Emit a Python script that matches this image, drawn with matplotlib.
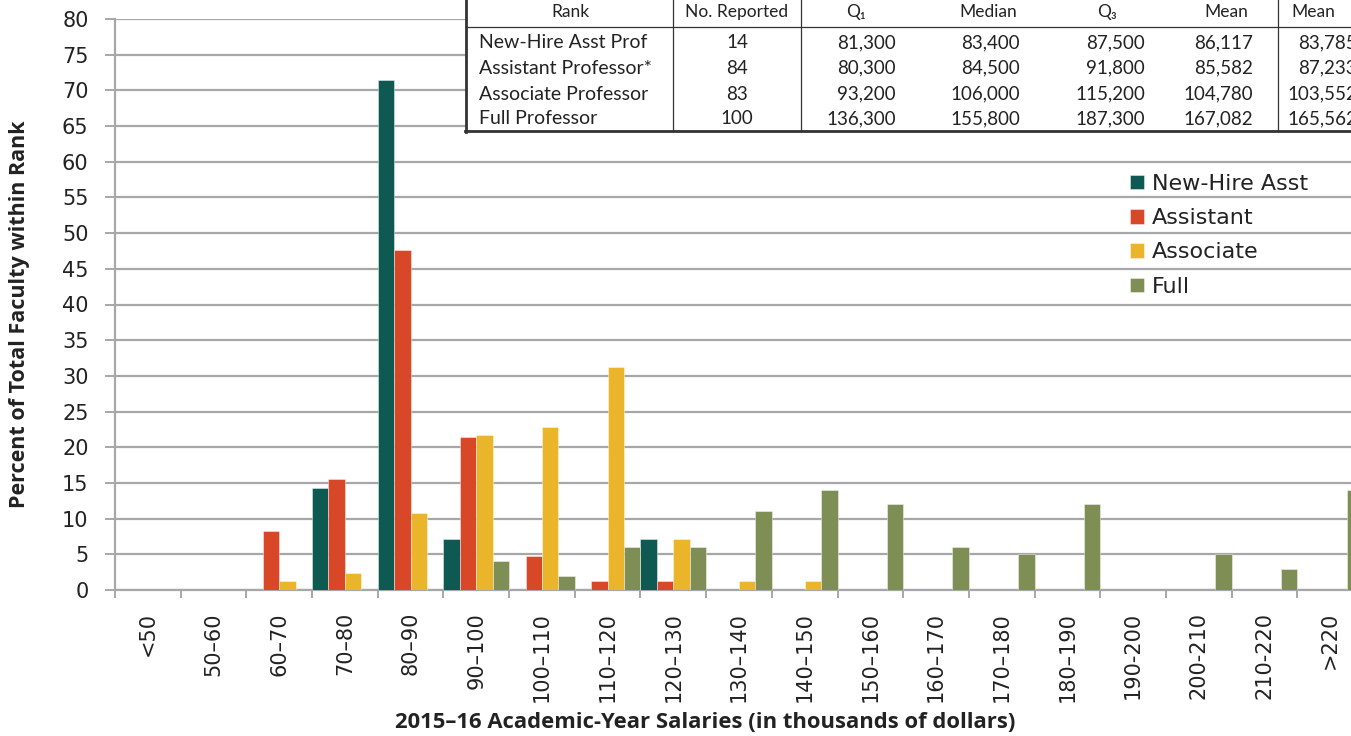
import matplotlib
matplotlib.use("Agg")
import matplotlib.pyplot as plt
from matplotlib.lines import Line2D
from matplotlib.patches import Rectangle
from matplotlib.transforms import offset_copy
import numpy as np

# ---------------- data ----------------
categories = ['<50', '50–60', '60–70', '70–80', '80–90', '90–100', '100–110',
              '110–120', '120–130', '130–140', '140–150', '150–160', '160–170',
              '170–180', '180–190', '190-200', '200-210', '210-220', '>220']
new_hire  = [0, 0, 0, 14.3, 71.4, 7.1, 0, 0, 7.1, 0, 0, 0, 0, 0, 0, 0, 0, 0, 0]
assistant = [0, 0, 8.3, 15.5, 47.6, 21.4, 4.8, 1.2, 1.2, 0, 0, 0, 0, 0, 0, 0, 0, 0, 0]
associate = [0, 0, 1.2, 2.4, 10.8, 21.7, 22.9, 31.3, 7.2, 1.2, 1.2, 0, 0, 0, 0, 0, 0, 0, 0]
full      = [0, 0, 0, 0, 0, 4, 2, 6, 6, 11, 14, 12, 6, 5, 12, 0, 5, 3, 14]
series_names = ['New-Hire Asst', 'Assistant', 'Associate', 'Full']
series_colors = ['#0E5A53', '#D84727', '#EAB42B', '#7E8E55']

table_header = ['Rank', 'No. Reported', 'Q₁', 'Median', 'Q₃', 'Mean', 'Mean']
table_rank = ['New-Hire Asst Prof', 'Assistant Professor*', 'Associate Professor', 'Full Professor']
table_n = ['14', '84', '83', '100']
table_q1 = ['81,300', '80,300', '93,200', '136,300']
table_median = ['83,400', '84,500', '106,000', '155,800']
table_q3 = ['87,500', '91,800', '115,200', '187,300']
table_mean = ['86,117', '85,582', '104,780', '167,082']
table_mean2 = ['83,785', '87,233', '103,552', '165,562']

# ---------------- figure ----------------
W, H = 1351, 736
fig = plt.figure(figsize=(W / 100, H / 100), dpi=100)
fig.patch.set_facecolor('white')

def fx(x):
    return x / W

def fy(y):
    return 1 - y / H

ax_left, ax_right, ax_top, ax_bot = 115, 1363, 19, 590
ax = fig.add_axes([fx(ax_left), fy(ax_bot), (ax_right - ax_left) / W, (ax_bot - ax_top) / H])
ax.set_facecolor('none')

grid_col = '#A7A7A9'
x = np.arange(len(categories))
bw = 0.25
all_series = [new_hire, assistant, associate, full]
handles = []
for j, (vals, col, name) in enumerate(zip(all_series, series_colors, series_names)):
    b = ax.bar(x + (j - 1.5) * bw, vals, width=bw, color=col, edgecolor=(1, 1, 1, 0.6),
               linewidth=0.5, zorder=3, label=name)
    handles.append(b)

ax.set_xlim(-0.5, len(categories) - 0.5)
ax.set_ylim(0, 80)
ax.set_yticks(np.arange(0, 81, 5))
ax.yaxis.grid(True, color=grid_col, linewidth=1.6, zorder=0)
ax.set_axisbelow(True)

for s in ['top', 'right']:
    ax.spines[s].set_visible(False)
for s in ['left', 'bottom']:
    ax.spines[s].set_color(grid_col)
    ax.spines[s].set_linewidth(1.6)

ax.tick_params(axis='y', length=7, width=1.4, color=grid_col, pad=12,
               labelsize=15, labelcolor='#222222')
# category labels placed at category centres (top-aligned, rotated)
ax.set_xticks(x)
ax.tick_params(axis='x', which='major', length=0, labelbottom=False)
ax.set_xticks(np.arange(-0.5, len(categories), 1.0), minor=True)
ax.tick_params(axis='x', which='minor', length=6, width=1.4, color=grid_col)
lab_tr = offset_copy(ax.get_xaxis_transform(), fig=fig, x=0, y=-22, units='dots')
for xi, cat in zip(x, categories):
    ax.text(xi, 0, cat, transform=lab_tr, rotation=90, rotation_mode='anchor',
            ha='right', va='center', fontsize=15, color='#222222', clip_on=False)

# axis titles
fig.text(fx(20), fy(314), 'Percent of Total Faculty within Rank', rotation=90,
         ha='center', va='center', fontsize=15.5, fontweight='bold',
         family=['Open Sans', 'DejaVu Sans'], color='#222222')
fig.text(fx(705), fy(722), '2015–16 Academic-Year Salaries (in thousands of dollars)',
         ha='center', va='center', fontsize=15.8, fontweight='bold',
         family=['Open Sans', 'DejaVu Sans'], color='#222222')

# legend
leg = ax.legend(handles=handles, loc='upper left', bbox_to_anchor=(fx(1130), fy(174)),
                bbox_transform=fig.transFigure, frameon=False, fontsize=16,
                handlelength=0.63, handleheight=0.63, handletextpad=0.35,
                labelspacing=0.64, borderpad=0, borderaxespad=0)
for t in leg.get_texts():
    t.set_color('#222222')

# ---------------- table ----------------
tfam = ['Lato', 'DejaVu Sans']
tab_left, tab_top, tab_bot = 466, -5, 131
fig.patches.append(Rectangle((fx(tab_left), fy(tab_bot)), (W + 20 - tab_left) / W,
                             (tab_bot - tab_top) / H, transform=fig.transFigure,
                             facecolor='white', edgecolor='none', zorder=5))
line_col = '#333333'
def hline(y, x0, x1, lw):
    fig.add_artist(Line2D([fx(x0), fx(x1)], [fy(y), fy(y)], transform=fig.transFigure,
                          color=line_col, linewidth=lw, zorder=6))
def vline(xp, y0, y1, lw):
    fig.add_artist(Line2D([fx(xp), fx(xp)], [fy(y0), fy(y1)], transform=fig.transFigure,
                          color=line_col, linewidth=lw, zorder=6))

hline(27, tab_left, W + 5, 0.9)
hline(131, tab_left - 1, W + 5, 2.0)
vline(tab_left, -2, 132, 2.0)
for xp in [673, 801, 1278]:
    vline(xp, -2, 131, 0.9)

header_x = [570, 737, 856, 988, 1107, 1226, 1313]
for hx, ht in zip(header_x, table_header):
    fig.text(fx(hx), fy(12), ht, ha='center', va='center', fontsize=12.5,
             family=tfam, color='#222222', zorder=7)

row_y = [43, 68, 94, 119]
value_cols = [table_q1, table_median, table_q3, table_mean, table_mean2]
value_right = [896, 1020, 1145, 1253, 1357]
for i, ry in enumerate(row_y):
    fig.text(fx(479), fy(ry), table_rank[i], ha='left', va='center', fontsize=14,
             family=tfam, color='#222222', zorder=7)
    fig.text(fx(737), fy(ry), table_n[i], ha='center', va='center', fontsize=13.5,
             family=tfam, color='#222222', zorder=7)
    for col, rx in zip(value_cols, value_right):
        fig.text(fx(rx), fy(ry), col[i], ha='right', va='center', fontsize=13.5,
                 family=tfam, color='#222222', zorder=7)

fig.savefig('out.png', dpi=100, facecolor='white')
